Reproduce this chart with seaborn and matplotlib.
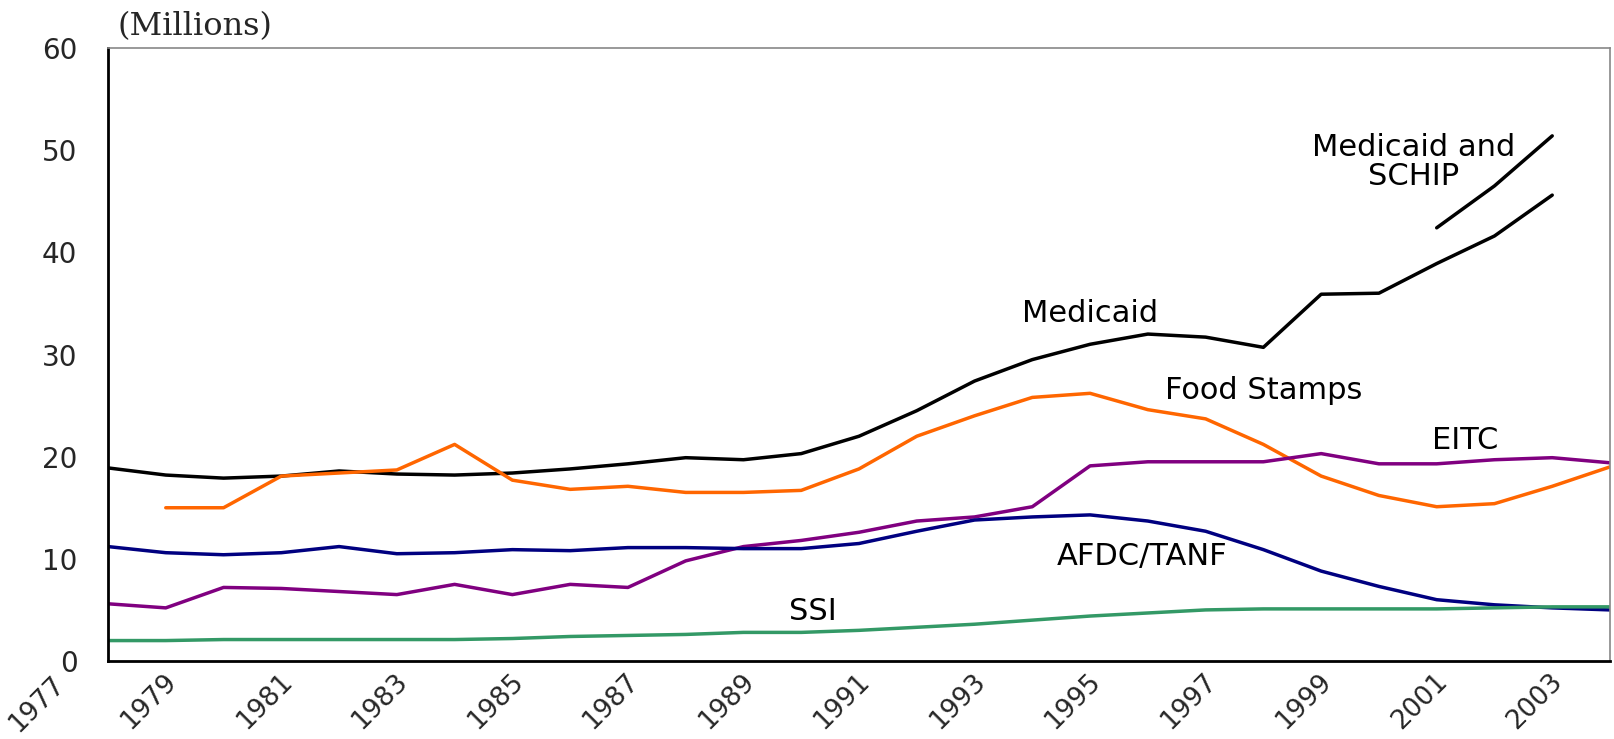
import numpy as np
import pandas as pd
import seaborn as sns
import matplotlib.pyplot as plt
import matplotlib.transforms as mtrans

# Données (millions de bénéficiaires)
years = list(range(1978, 2005))
medicaid = [18.9, 18.2, 17.9, 18.1, 18.6, 18.3, 18.2, 18.4, 18.8, 19.3, 19.9, 19.7, 20.3,
            22.0, 24.5, 27.4, 29.5, 31.0, 32.0, 31.7, 30.7, 35.9, 36.0, 38.9, 41.6, 45.6, np.nan]
food_stamps = [np.nan, 15.0, 15.0, 18.1, 18.4, 18.7, 21.2, 17.7, 16.8, 17.1, 16.5, 16.5, 16.7,
               18.8, 22.0, 24.0, 25.8, 26.2, 24.6, 23.7, 21.2, 18.1, 16.2, 15.1, 15.4, 17.1, 19.0]
eitc = [5.6, 5.2, 7.2, 7.1, 6.8, 6.5, 7.5, 6.5, 7.5, 7.2, 9.8, 11.2, 11.8,
        12.6, 13.7, 14.1, 15.1, 19.1, 19.5, 19.5, 19.5, 20.3, 19.3, 19.3, 19.7, 19.9, 19.4]
afdc_tanf = [11.2, 10.6, 10.4, 10.6, 11.2, 10.5, 10.6, 10.9, 10.8, 11.1, 11.1, 11.0, 11.0,
             11.5, 12.7, 13.8, 14.1, 14.3, 13.7, 12.7, 10.9, 8.8, 7.3, 6.0, 5.5, 5.2, 5.0]
ssi = [2.0, 2.0, 2.1, 2.1, 2.1, 2.1, 2.1, 2.2, 2.4, 2.5, 2.6, 2.8, 2.8,
       3.0, 3.3, 3.6, 4.0, 4.4, 4.7, 5.0, 5.1, 5.1, 5.1, 5.1, 5.2, 5.3, 5.3]
schip_years = [2001, 2002, 2003]
medicaid_schip = [42.4, 46.5, 51.4]

series = {
    'Medicaid': medicaid,
    'Food Stamps': food_stamps,
    'EITC': eitc,
    'AFDC/TANF': afdc_tanf,
    'SSI': ssi,
}
couleurs = {
    'Medicaid': '#000000',
    'Food Stamps': '#FF6600',
    'EITC': '#800080',
    'AFDC/TANF': '#000080',
    'SSI': '#339966',
    'Medicaid and SCHIP': '#000000',
}

frames = [pd.DataFrame({'year': years, 'value': v, 'prog': k}) for k, v in series.items()]
frames.append(pd.DataFrame({'year': schip_years, 'value': medicaid_schip, 'prog': 'Medicaid and SCHIP'}))
df = pd.concat(frames, ignore_index=True).dropna()

sns.set_style('white')
plt.rcParams['font.family'] = ['DejaVu Sans']

fig = plt.figure(figsize=(16.15, 7.39), dpi=100)
ax = fig.add_axes([108 / 1615, 1 - 661 / 739, 1502 / 1615, 613 / 739])

sns.lineplot(data=df, x='year', y='value', hue='prog', palette=couleurs,
             linewidth=2.5, legend=False, ax=ax, sort=True)

ax.set_xlim(1978, 2004)
ax.set_ylim(0, 60)
ax.set_xlabel('')
ax.set_ylabel('')

# Axe des ordonnées
ax.set_yticks(range(0, 61, 10))
ax.tick_params(axis='y', direction='in', length=7, width=1, color='#555555',
               labelsize=20, pad=22)

# Axe des abscisses
ax.set_xticks(range(1979, 2004, 2))
ax.set_xticks(range(1979, 2005), minor=True)
ax.set_xticklabels([str(y) for y in range(1979, 2004, 2)])
ax.tick_params(axis='x', which='both', direction='in', length=5, width=1, color='#555555',
               labelsize=19, pad=4)
offset = mtrans.ScaledTranslation(16 / 100, -2 / 100, fig.dpi_scale_trans)
for lab in ax.get_xticklabels():
    lab.set_rotation(45)
    lab.set_ha('right')
    lab.set_va('top')
    lab.set_transform(lab.get_transform() + offset)
# libellé 1977 à gauche de l'axe
ax.text(1977, 0, '1977', rotation=45, ha='right', va='top', fontsize=19, clip_on=False,
        transform=mtrans.blended_transform_factory(ax.transData, ax.transAxes)
        + mtrans.ScaledTranslation(20 / 100, -(2 + 8) / 100, fig.dpi_scale_trans))

for side in ['left', 'bottom']:
    ax.spines[side].set_color('black')
    ax.spines[side].set_linewidth(2)
for side in ['top', 'right']:
    ax.spines[side].set_color('#888888')
    ax.spines[side].set_linewidth(1.2)

# Étiquettes des séries
txt = dict(fontsize=22, ha='center', va='center', color='black')
ax.text(1995.0, 34.0, 'Medicaid', **txt)
ax.text(1998.0, 26.5, 'Food Stamps', **txt)
ax.text(2001.5, 21.6, 'EITC', **txt)
ax.text(1995.9, 10.2, 'AFDC/TANF', **txt)
ax.text(1990.2, 4.8, 'SSI', **txt)
ax.text(2000.6, 48.8, 'Medicaid and\nSCHIP', linespacing=1.0, **txt)

fig.text(118 / 1615, 1 - 27 / 739, '(Millions)', family='DejaVu Serif', fontsize=23,
         ha='left', va='center')

plt.savefig('out.png', dpi=100)
